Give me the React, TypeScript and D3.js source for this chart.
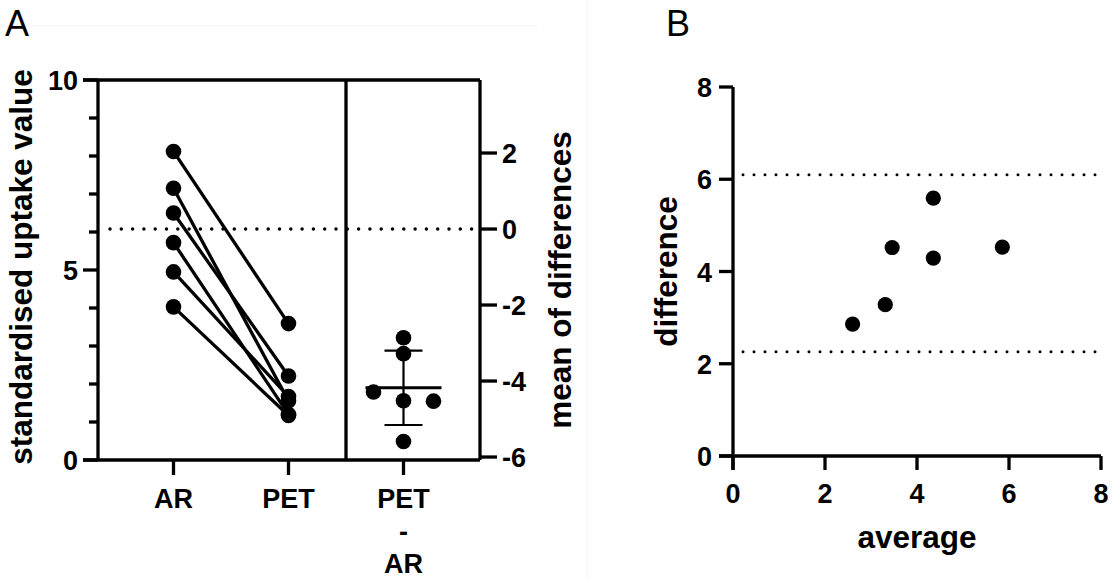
import React from 'react';
import * as d3 from 'd3';

// paired measurements (same subject, same index)
const groups = ['AR', 'PET', 'PET-AR'];
const arValues = [4.03, 4.95, 5.72, 7.15, 6.5, 8.12];
const petValues = [1.17, 1.67, 1.2, 1.56, 2.21, 3.59];

const leftTicks = [0, 5, 10];
const leftMinorTicks = [1, 2, 3, 4, 6, 7, 8, 9];
const rightTicks = [-6, -4, -2, 0, 2];
const bTicks = [0, 2, 4, 6, 8];

const FONT = '"Liberation Sans", Arial, Helvetica, sans-serif';

function App() {
  const width = 1112;
  const height = 579;

  // ---- panel A ----
  const yA = d3.scaleLinear().domain([0, 10]).range([460, 80]);
  const arMean = d3.mean(arValues) as number;
  const yDiff = d3.scaleLinear().domain([-arMean, 10 - arMean]).range([460, 80]);
  const xA = d3.scaleBand().domain(groups).range([116, 461]);
  const cx = (g: string) => (xA(g) as number) + xA.bandwidth() / 2;
  const axisLeftX = 98;
  const axisRightX = 480;
  const dividerX = xA('PET-AR') as number;

  const diffs = arValues.map((a, i) => petValues[i] - a);
  const diffMean = d3.mean(diffs) as number;
  const diffSd = d3.deviation(diffs) as number;

  // simple beeswarm for the difference column
  const r = 7.8;
  const placed: { x: number; y: number }[] = [];
  const swarm = diffs.map(d => {
    const y = yDiff(d);
    const offsets = [0, -1, 1, -2, 2];
    for (const o of offsets) {
      const x = cx('PET-AR') + o * 30;
      if (!placed.some(p => Math.hypot(p.x - x, p.y - y) < 2 * r)) {
        placed.push({ x, y });
        return { x, y };
      }
    }
    return { x: cx('PET-AR'), y };
  });

  // ---- panel B ----
  const xB = d3.scaleLinear().domain([0, 8]).range([733, 1101]);
  const yB = d3.scaleLinear().domain([0, 8]).range([456, 87]);
  const blandDiff = arValues.map((a, i) => a - petValues[i]);
  const blandAvg = arValues.map((a, i) => (a + petValues[i]) / 2);
  const bMean = d3.mean(blandDiff) as number;
  const bSd = d3.deviation(blandDiff) as number;
  const limits = [bMean + 1.96 * bSd, bMean - 1.96 * bSd];

  const tickFont = { fontFamily: FONT, fontWeight: 700, fontSize: 27 };
  const titleFont = { fontFamily: FONT, fontWeight: 700, fontSize: 31.5 };
  const sw = 3.3;

  return (
    <svg width={width} height={height} style={{ position: 'absolute', left: 0, top: 0, background: '#fff' }}>
      {/* faint scan artefacts */}
      <line x1={0} x2={537} y1={26} y2={26} stroke="#f2f2f2" strokeWidth={1} />
      <line x1={587} x2={587} y1={0} y2={579} stroke="#f6f6f6" strokeWidth={1} />

      <text x={5} y={36} fontFamily={FONT} fontSize={36}>A</text>
      <text x={666} y={36} fontFamily={FONT} fontSize={36}>B</text>

      {/* ===== Panel A ===== */}
      <g>
        {/* frame */}
        <line x1={83} x2={axisRightX} y1={yA(10)} y2={yA(10)} stroke="#000" strokeWidth={sw} />
        <line x1={83} x2={axisRightX} y1={yA(0)} y2={yA(0)} stroke="#000" strokeWidth={sw} />
        <line x1={axisLeftX} x2={axisLeftX} y1={yA(10)} y2={yA(0)} stroke="#000" strokeWidth={sw} />
        <line x1={dividerX} x2={dividerX} y1={yA(10)} y2={yA(0)} stroke="#000" strokeWidth={sw} />
        <line x1={axisRightX} x2={axisRightX} y1={yA(10)} y2={yA(0)} stroke="#000" strokeWidth={sw} />

        {/* left ticks */}
        {leftTicks.map(t => (
          <g key={'lt' + t}>
            <line x1={83} x2={axisLeftX} y1={yA(t)} y2={yA(t)} stroke="#000" strokeWidth={sw} />
            <text x={78} y={yA(t) + 10} textAnchor="end" {...tickFont}>{t}</text>
          </g>
        ))}
        {leftMinorTicks.map(t => (
          <line key={'lm' + t} x1={89} x2={axisLeftX} y1={yA(t)} y2={yA(t)} stroke="#000" strokeWidth={sw} />
        ))}

        {/* right ticks */}
        {rightTicks.map(t => (
          <g key={'rt' + t}>
            <line x1={axisRightX} x2={497} y1={yDiff(t)} y2={yDiff(t)} stroke="#000" strokeWidth={sw} />
            <text x={502} y={yDiff(t) + 10} textAnchor="start" {...tickFont}>{t}</text>
          </g>
        ))}

        {/* x ticks and labels */}
        {groups.map(g => (
          <line key={'xt' + g} x1={cx(g)} x2={cx(g)} y1={yA(0)} y2={475} stroke="#000" strokeWidth={sw} />
        ))}
        <text x={cx('AR')} y={508} textAnchor="middle" {...tickFont}>AR</text>
        <text x={cx('PET')} y={508} textAnchor="middle" {...tickFont}>PET</text>
        <text x={cx('PET-AR')} y={508} textAnchor="middle" {...tickFont}>PET</text>
        <text x={cx('PET-AR')} y={541} textAnchor="middle" {...tickFont}>-</text>
        <text x={cx('PET-AR')} y={573} textAnchor="middle" {...tickFont}>AR</text>

        {/* zero-difference line at AR mean */}
        <line x1={110} x2={axisRightX} y1={yA(arMean)} y2={yA(arMean)} stroke="#000"
          strokeWidth={3.5} strokeDasharray="0 11.3" strokeLinecap="round" />

        {/* paired lines */}
        {arValues.map((a, i) => (
          <line key={'pl' + i} x1={cx('AR')} y1={yA(a)} x2={cx('PET')} y2={yA(petValues[i])}
            stroke="#000" strokeWidth={sw} />
        ))}
        {arValues.map((a, i) => (
          <circle key={'ar' + i} cx={cx('AR')} cy={yA(a)} r={r} fill="#000" />
        ))}
        {petValues.map((p, i) => (
          <circle key={'pet' + i} cx={cx('PET')} cy={yA(p)} r={r} fill="#000" />
        ))}

        {/* differences */}
        <line x1={cx('PET-AR')} x2={cx('PET-AR')} y1={yDiff(diffMean + diffSd)} y2={yDiff(diffMean - diffSd)}
          stroke="#000" strokeWidth={2.2} />
        <line x1={cx('PET-AR') - 19} x2={cx('PET-AR') + 19} y1={yDiff(diffMean + diffSd)} y2={yDiff(diffMean + diffSd)}
          stroke="#000" strokeWidth={2.2} />
        <line x1={cx('PET-AR') - 19} x2={cx('PET-AR') + 19} y1={yDiff(diffMean - diffSd)} y2={yDiff(diffMean - diffSd)}
          stroke="#000" strokeWidth={2.2} />
        {swarm.map((p, i) => (
          <circle key={'df' + i} cx={p.x} cy={p.y} r={r} fill="#000" />
        ))}
        <line x1={cx('PET-AR') - 38} x2={cx('PET-AR') + 38} y1={yDiff(diffMean)} y2={yDiff(diffMean)}
          stroke="#000" strokeWidth={3} />

        {/* titles */}
        <text transform={`translate(32,267) rotate(-90)`} textAnchor="middle" {...titleFont}>
          standardised uptake value
        </text>
        <text transform={`translate(571,280) rotate(-90)`} textAnchor="middle" {...titleFont}>
          mean of differences
        </text>
      </g>

      {/* ===== Panel B ===== */}
      <g>
        <line x1={xB(0)} x2={xB(0)} y1={yB(8)} y2={470} stroke="#000" strokeWidth={sw} />
        <line x1={719} x2={xB(8)} y1={yB(0)} y2={yB(0)} stroke="#000" strokeWidth={sw} />
        {bTicks.map(t => (
          <g key={'by' + t}>
            <line x1={719} x2={xB(0)} y1={yB(t)} y2={yB(t)} stroke="#000" strokeWidth={sw} />
            <text x={712} y={yB(t) + 10} textAnchor="end" {...tickFont}>{t}</text>
          </g>
        ))}
        {bTicks.map(t => (
          <g key={'bx' + t}>
            <line x1={xB(t)} x2={xB(t)} y1={yB(0)} y2={470} stroke="#000" strokeWidth={sw} />
            <text x={xB(t)} y={503} textAnchor="middle" {...tickFont}>{t}</text>
          </g>
        ))}
        {limits.map((l, i) => (
          <line key={'loa' + i} x1={743} x2={xB(8)} y1={yB(l)} y2={yB(l)} stroke="#000"
            strokeWidth={3} strokeDasharray="0 11" strokeLinecap="round" />
        ))}
        {blandAvg.map((a, i) => (
          <circle key={'b' + i} cx={xB(a)} cy={yB(blandDiff[i])} r={7.6} fill="#000" />
        ))}
        <text transform={`translate(677,${(yB(0) + yB(8)) / 2}) rotate(-90)`} textAnchor="middle" {...titleFont}>
          difference
        </text>
        <text x={(xB(0) + xB(8)) / 2} y={548} textAnchor="middle" {...titleFont}>average</text>
      </g>
    </svg>
  );
}

export default App;
